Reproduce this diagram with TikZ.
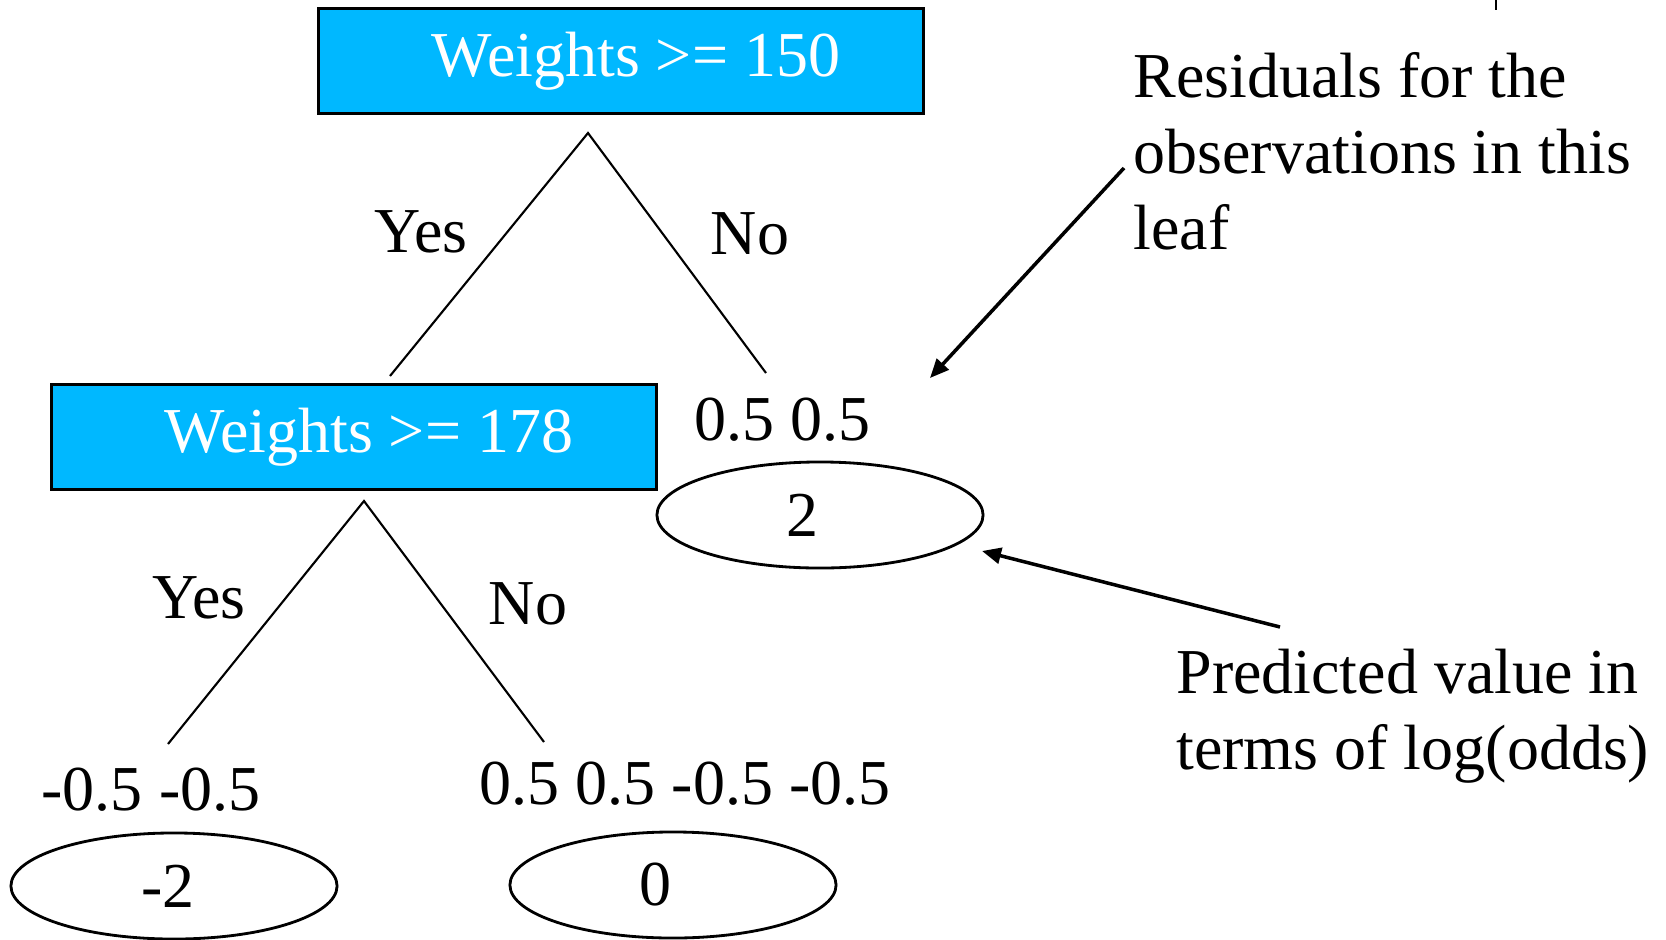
\documentclass[tikz,border=0pt]{standalone}
\usepackage{fontspec}
\setmainfont{Liberation Serif}
\usetikzlibrary{arrows.meta,shapes.geometric}
\definecolor{skyblue}{RGB}{0,184,255}

\tikzset{
  split/.style={draw=black,line width=0.9pt,fill=skyblue,text=white,
    minimum width=6.04cm,minimum height=1.05cm,inner sep=0pt},
  leaf/.style={draw=black,line width=0.8pt,ellipse,minimum width=3.26cm,
    minimum height=1.06cm,inner sep=0pt},
  branch/.style={line width=0.6pt},
  pointer/.style={line width=1pt,-{Triangle[length=0.19cm,width=0.16cm]}}
}

\begin{document}
\begin{tikzpicture}[x=0.01cm,y=-0.01cm,font=\fontsize{18.2}{21.6}\selectfont]
  \useasboundingbox (0,0) rectangle (1666,939);
  \draw[line width=0.6pt] (1496,0)--(1496,10);
  % first split
  \node[split] (root) at (621,61) {\hspace*{0.3cm}\raisebox{-0.03cm}{Weights >= 150}};
  \coordinate (rootfoot) at (588,133);
  \coordinate (leftend) at (390,376);
  \coordinate (rightend) at (766,373);
  \draw[branch] (leftend)--(rootfoot)--(rightend);
  \node (yesA) at (421,232) {Yes};
  \node (noA) at (750,234) {No};
  % second split
  \node[split] (inner) at (354,437) {\hspace*{0.3cm}\raisebox{-0.03cm}{Weights >= 178}};
  \node (resA) at (782,420) {0.5 0.5};
  \node[leaf] (leafA) at (820,515) {2\hspace*{0.34cm}};
  \coordinate (innerfoot) at (364,501);
  \coordinate (lowleft) at (168,744);
  \coordinate (lowright) at (544,742);
  \draw[branch] (lowleft)--(innerfoot)--(lowright);
  \node (yesB) at (199,598) {Yes};
  \node (noB) at (528,604) {No};
  % bottom leaves
  \node (resB) at (151,790) {-0.5 -0.5};
  \node (resC) at (685,784) {0.5 0.5 -0.5 -0.5};
  \node[leaf] (leafB) at (174,886) {-2\hspace*{0.12cm}};
  \node[leaf] (leafC) at (673,885) {0\hspace*{0.34cm}};
  % notes
  \node[align=left,anchor=west] (noteA) at (1121,151)
    {Residuals for the\\observations in this\\leaf};
  \node[align=left,anchor=west] (noteB) at (1164,716)
    {Predicted value in\\terms of log(odds)};
  \coordinate (tipA) at (930,378);
  \coordinate (tipB) at (982,551);
  \draw[pointer] (1124,168)--(tipA);
  \draw[pointer] (1280,627)--(tipB);
\end{tikzpicture}
\end{document}
